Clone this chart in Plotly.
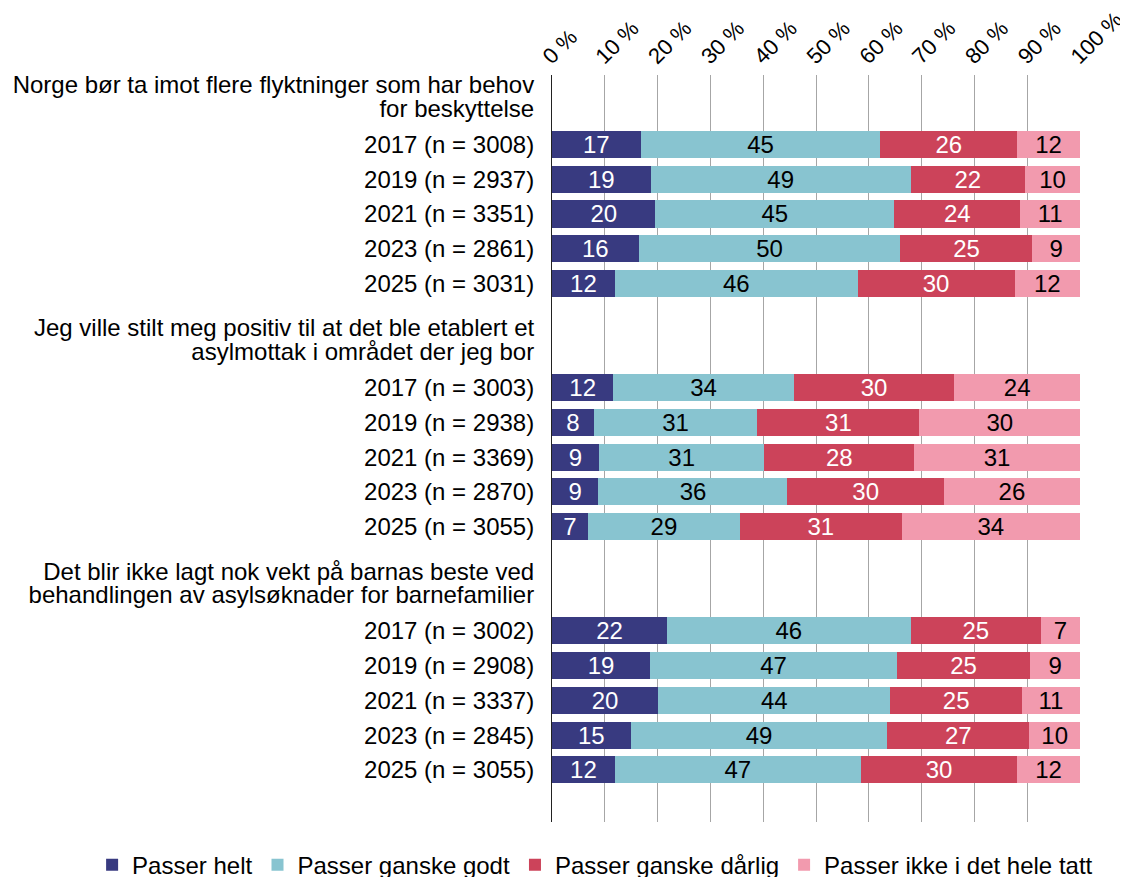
import plotly.graph_objects as go

# ---------------- data ----------------
years = ["2017", "2019", "2021", "2023", "2025"]
header_lines = [
    ["Norge bør ta imot flere flyktninger som har behov", "for beskyttelse"],
    ["Jeg ville stilt meg positiv til at det ble etablert et", "asylmottak i området der jeg bor"],
    ["Det blir ikke lagt nok vekt på barnas beste ved", "behandlingen av asylsøknader for barnefamilier"],
]
n_values = [
    [3008, 2937, 3351, 2861, 3031],
    [3003, 2938, 3369, 2870, 3055],
    [3002, 2908, 3337, 2845, 3055],
]
series_names = ["Passer helt", "Passer ganske godt", "Passer ganske dårlig", "Passer ikke i det hele tatt"]

passer_helt = [16.8, 18.7, 19.6, 16.4, 11.9, 11.6, 7.9, 8.9, 8.8, 6.8, 21.8, 18.6, 20.1, 14.9, 11.9]
passer_ganske_godt = [45.4, 49.2, 45.2, 49.6, 46.0, 34.2, 31.0, 31.3, 35.8, 28.8, 46.1, 46.7, 44.0, 48.6, 46.6]
passer_ganske_darlig = [25.9, 21.7, 23.9, 25.0, 29.7, 30.4, 30.7, 28.4, 29.6, 30.6, 24.7, 25.3, 24.9, 26.9, 29.6]
passer_ikke = [11.9, 10.4, 11.3, 9.0, 12.4, 23.8, 30.4, 31.4, 25.8, 33.8, 7.4, 9.4, 11.0, 9.6, 11.9]

colors = ["#383A80", "#88C4D0", "#CC435A", "#F29AAE"]
text_colors = ["white", "black", "white", "black"]

# ---------------- layout of rows ----------------
GROUP_STEP = 7
HEADER_OFFSET = 1.38
LINE_HALF = 0.34

positions = []
tickvals = []
ticktext = []
for g in range(len(header_lines)):
    base = g * GROUP_STEP
    tickvals += [base - HEADER_OFFSET - LINE_HALF, base - HEADER_OFFSET + LINE_HALF]
    ticktext += header_lines[g]
    for i, yr in enumerate(years):
        positions.append(base + i)
        tickvals.append(base + i)
        ticktext.append(f"{yr} (n = {n_values[g][i]})")

series = [passer_helt, passer_ganske_godt, passer_ganske_darlig, passer_ikke]

FONT = "Liberation Sans, Arial, sans-serif"
FS = 24

fig = go.Figure()
for name, vals, col, tcol in zip(series_names, series, colors, text_colors):
    fig.add_trace(go.Bar(
        y=positions, x=vals, orientation="h", name=name,
        marker=dict(color=col, line=dict(width=0)),
        texttemplate="%{x:.0f}", textposition="inside",
        insidetextanchor="middle", textangle=0, constraintext="none",
        textfont=dict(color=tcol, size=FS, family=FONT),
        hoverinfo="x+name",
    ))

last = positions[-1]
fig.update_layout(
    width=1120, height=900,
    barmode="stack", bargap=0.22,
    paper_bgcolor="white", plot_bgcolor="white",
    font=dict(family=FONT, size=FS, color="black"),
    margin=dict(l=544, r=48, t=67, b=86, autoexpand=False),
    uniformtext=dict(minsize=FS, mode="show"),
    xaxis=dict(
        side="top", range=[0, 100], dtick=10, tick0=0, ticksuffix=" %",
        tickangle=-45, showgrid=True, gridcolor="#A6A6A6", gridwidth=1,
        zeroline=False, showline=False, ticks="", ticklabelstandoff=1,
        ticklabelshift=-8,
        ticklabeloverflow="allow", automargin=False,
        tickfont=dict(size=22, family=FONT, color="black"),
    ),
    yaxis=dict(
        range=[last + 1.5, -2.0], tickmode="array", tickvals=tickvals, ticktext=ticktext,
        showgrid=False, zeroline=False, showline=True, linecolor="#222222", linewidth=1,
        ticks="", ticklabelstandoff=12, automargin=False,
        tickfont=dict(size=FS, family=FONT, color="black"),
    ),
    legend=dict(
        orientation="h", xref="paper", yref="paper",
        x=-0.871, xanchor="left", y=-0.0577, yanchor="middle",
        font=dict(size=FS, family=FONT), traceorder="normal",
        itemwidth=30, tracegroupgap=0,
    ),
)

fig.write_html("out.html")
